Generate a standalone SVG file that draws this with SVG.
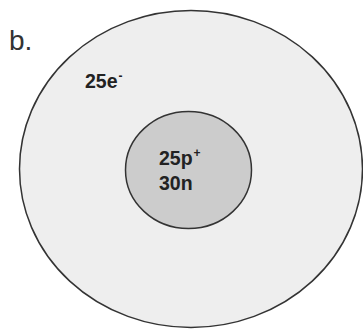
<svg xmlns="http://www.w3.org/2000/svg" width="363" height="330" viewBox="0 0 363 330">
<style>
.lbl{font-family:"Liberation Sans",Arial,sans-serif;font-weight:bold;font-size:19.5px;fill:#222}
.sup{font-family:"Liberation Sans",Arial,sans-serif;font-weight:bold;font-size:12px;fill:#222}
.ring{stroke:#333;stroke-width:1.5}
</style>
<rect width="363" height="330" fill="#ffffff"/>
<text x="9" y="50" font-family="Liberation Sans, Arial, sans-serif" font-size="28" fill="#333">b.</text>
<g id="shell">
<ellipse class="ring" cx="191" cy="169" rx="171.5" ry="158.5" fill="#eeeeee"/>
<text class="lbl" x="85" y="88">25e<tspan class="sup" dx="1" dy="-8">-</tspan></text>
</g>
<g id="nucleus">
<ellipse class="ring" cx="188.5" cy="170" rx="63" ry="58.5" fill="#cccccc"/>
<text class="lbl" x="159" y="165">25p<tspan class="sup" dx="1" dy="-8">+</tspan></text>
<text class="lbl" x="159" y="190">30n</text>
</g>
<g id="connectors"/>
</svg>
